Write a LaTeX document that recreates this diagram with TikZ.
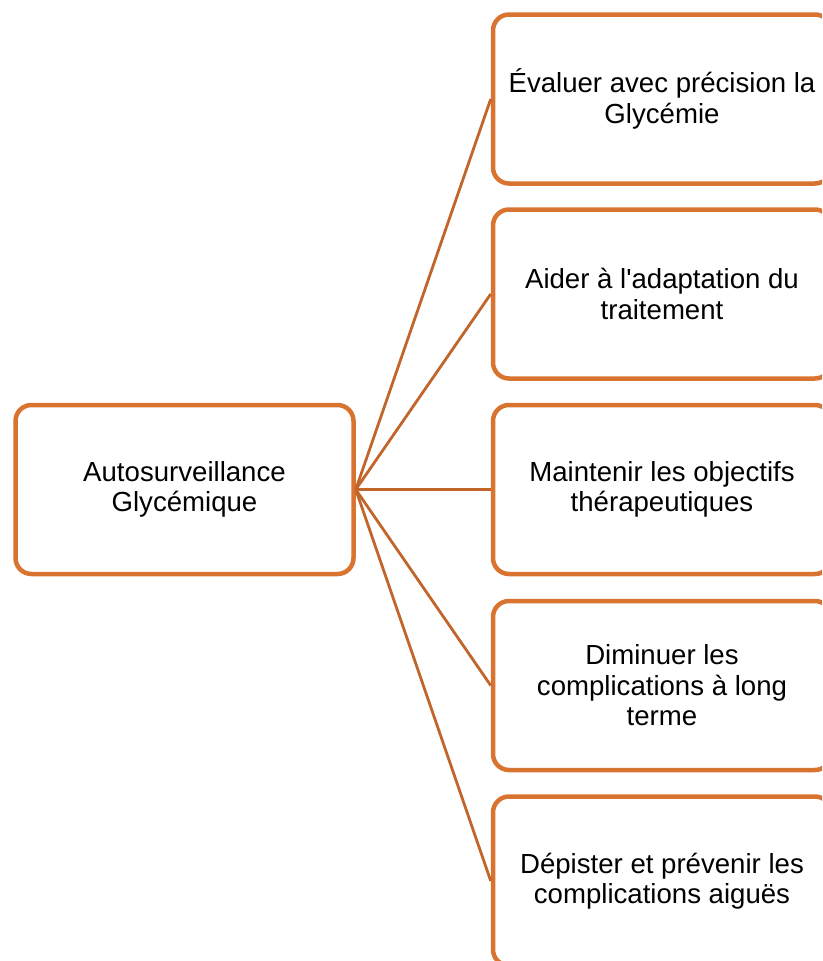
\documentclass[tikz,border=0pt]{standalone}
\usepackage{fontspec}
\newfontfamily\boxfont{Liberation Sans}
\definecolor{boxorange}{RGB}{217,115,48}
\definecolor{lineorange}{RGB}{193,101,42}
\begin{document}
\begin{tikzpicture}[x=1pt,y=-1pt,
  box/.style={draw=boxorange, line width=4.5pt, rounded corners=16pt, fill=white,
    minimum width=338pt, minimum height=169pt, inner sep=0pt, align=center,
    font=\boxfont\fontsize{27.6}{30.5}\selectfont},
  link/.style={draw=lineorange, line width=2.8pt}]
\useasboundingbox (0,0) rectangle (822,961);
\clip (0,0) rectangle (822,961);
\node[box] (L) at (184.5,489.5) {Autosurveillance\\Glycémique};
\node[box] (R1) at (662,99) {Évaluer avec précision la\\Glycémie};
\node[box] (R2) at (662,294) {Aider à l'adaptation du\\traitement};
\node[box] (R3) at (662,489.5) {Maintenir les objectifs\\thérapeutiques};
\node[box] (R4) at (662,685.5) {Diminuer les\\complications à long\\terme};
\node[box] (R5) at (662,881) {Dépister et prévenir les\\complications aiguës};
\foreach \r in {R1,R2,R3,R4,R5} \draw[link] (L.east) -- (\r.west);
\end{tikzpicture}
\end{document}
